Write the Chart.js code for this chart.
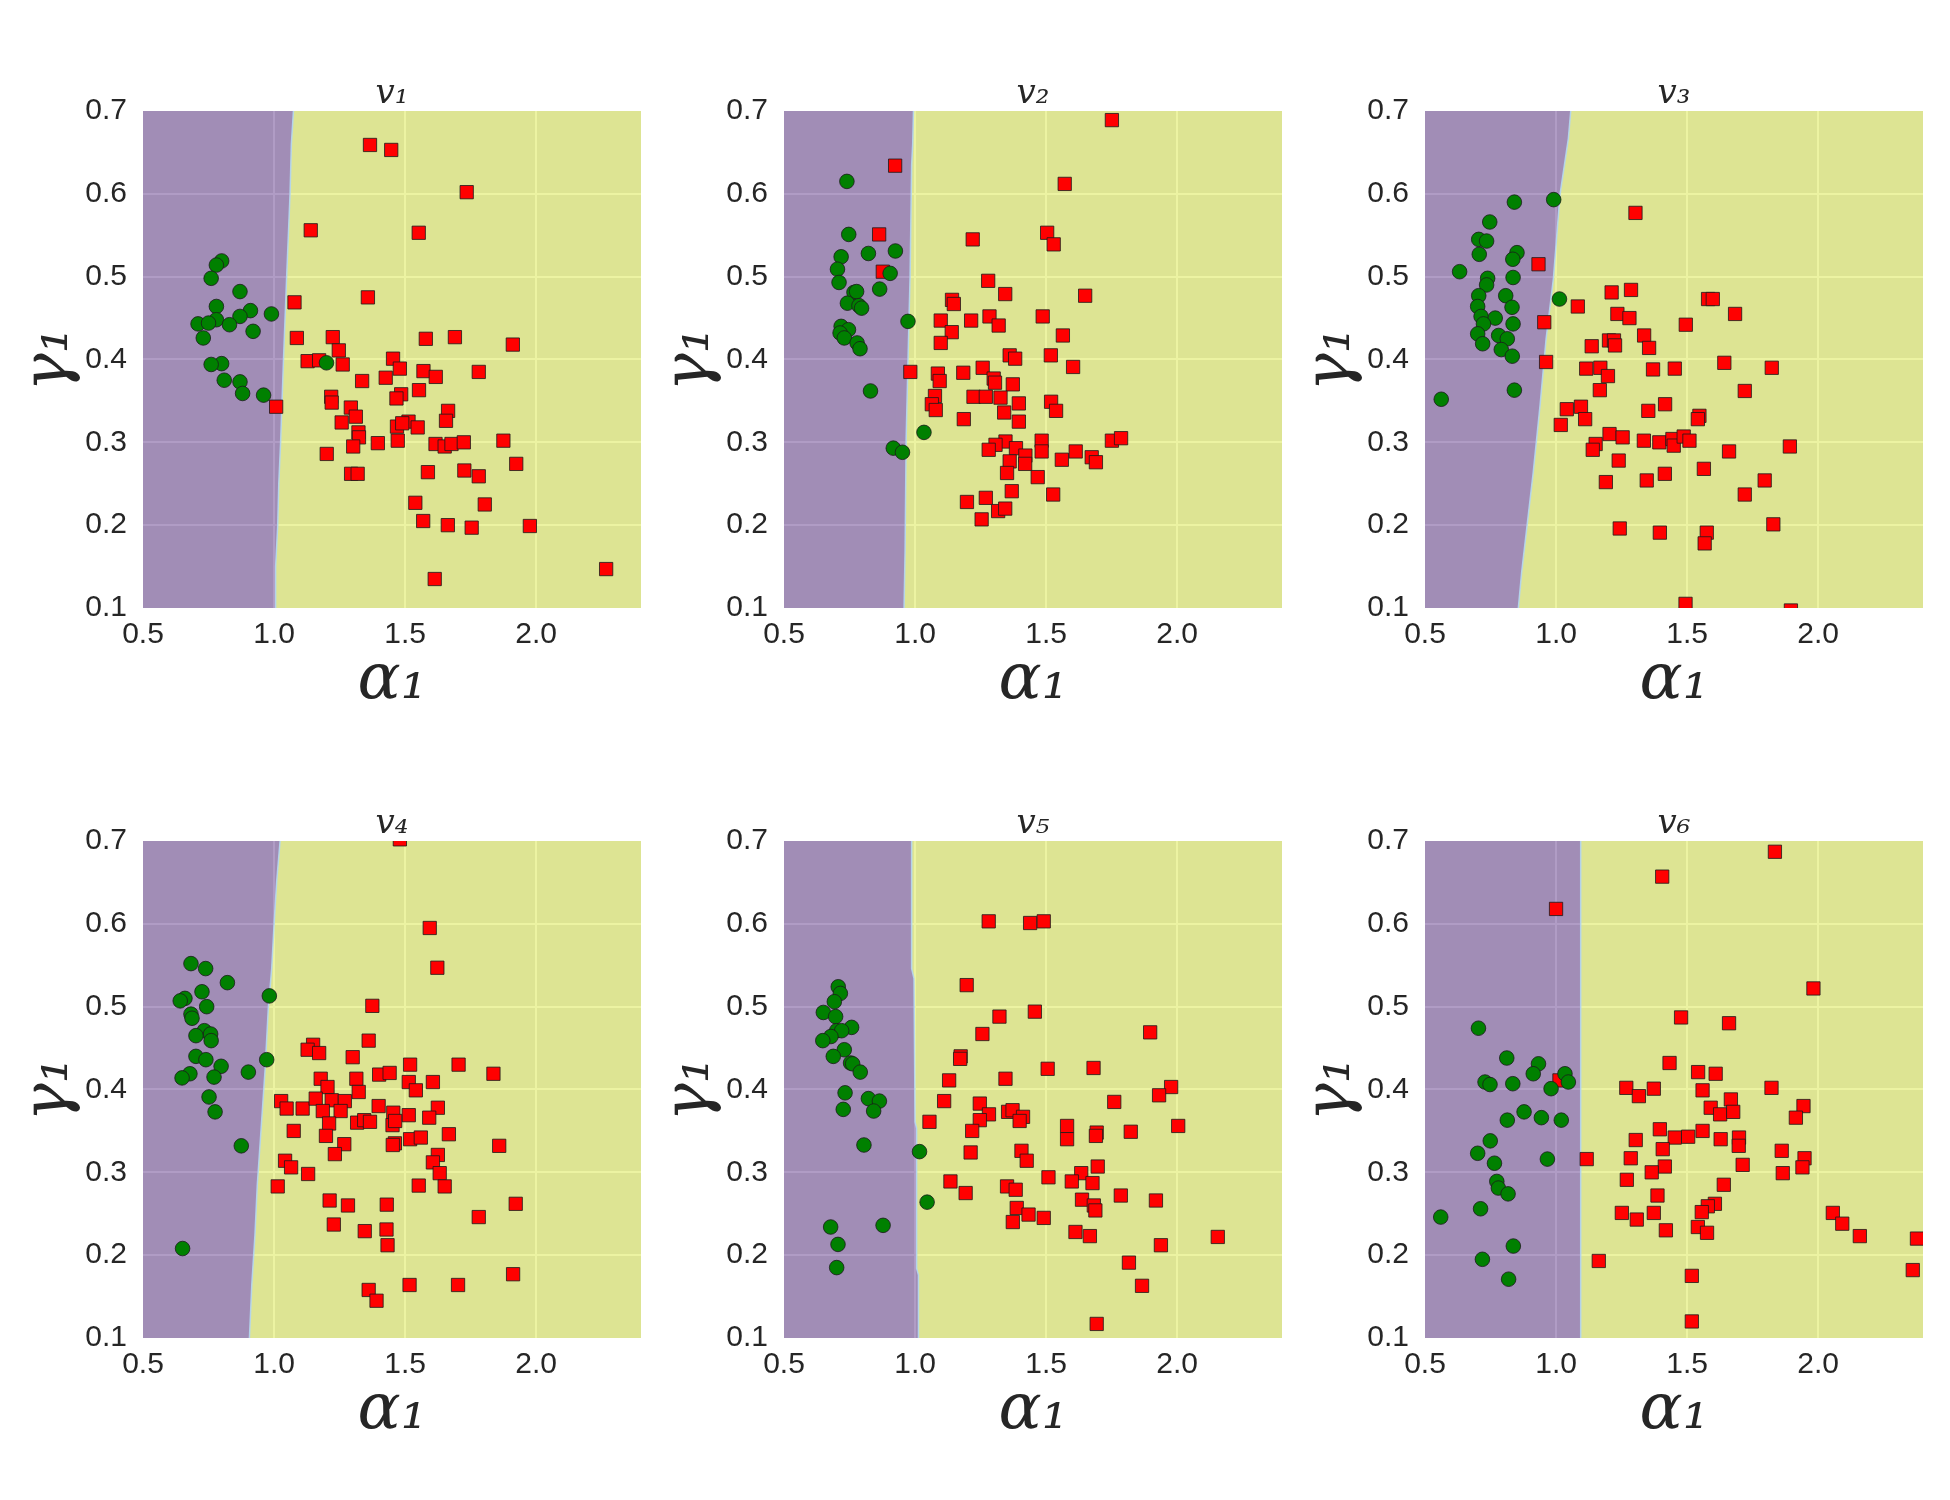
<!DOCTYPE html>
<html lang="en">
  <head>
    <meta charset="UTF-8" />
    <title>Decision regions v1 - v6</title>
    <style>
      body {
        margin: 0;
        background-color: #ffffff;
      }
      .wrap {
        position: relative;
        width: 1950px;
        height: 1500px;
      }
      .cell {
        position: absolute;
        width: 641px;
        height: 730px;
      }
    </style>
  </head>
  <body>
    <div class="wrap">
      <div class="cell" style="left: 0px; top: 0px"><canvas id="c1" width="641" height="730"></canvas></div>
      <div class="cell" style="left: 641px; top: 0px"><canvas id="c2" width="641" height="730"></canvas></div>
      <div class="cell" style="left: 1282px; top: 0px"><canvas id="c3" width="641" height="730"></canvas></div>
      <div class="cell" style="left: 0px; top: 730px"><canvas id="c4" width="641" height="730"></canvas></div>
      <div class="cell" style="left: 641px; top: 730px"><canvas id="c5" width="641" height="730"></canvas></div>
      <div class="cell" style="left: 1282px; top: 730px"><canvas id="c6" width="641" height="730"></canvas></div>
    </div>

    <script src="https://cdn.jsdelivr.net/npm/chart.js"></script>
    <script>
      // axis limits and labels
      const xMin = 0.5, xMax = 2.4, xStep = 0.5;
      const yMin = 0.1, yMax = 0.7, yStep = 0.1;
      const titles = ["v₁", "v₂", "v₃", "v₄", "v₅", "v₆"];
      const xLabel = "α₁";
      const yLabel = "γ₁";

      // [alpha1, gamma1] pairs, green = class 0 (circles), red = class 1 (squares)
      const v1Green = [[0.80,0.519],[0.78,0.514],[0.76,0.498],[0.87,0.482],[0.78,0.464],[0.91,0.459],[0.87,0.452],[0.78,0.448],[0.71,0.443],[0.75,0.444],[0.83,0.442],[0.99,0.455],[0.92,0.434],[0.73,0.426],[0.80,0.395],[0.76,0.394],[1.20,0.396],[0.81,0.375],[0.87,0.373],[0.88,0.359],[0.96,0.357]];
      const v1Red = [[1.366,0.659],[1.447,0.653],[1.735,0.602],[1.140,0.556],[1.552,0.553],[1.078,0.469],[1.358,0.475],[1.087,0.426],[1.224,0.427],[1.579,0.425],[1.690,0.427],[1.911,0.418],[1.247,0.411],[1.454,0.401],[1.128,0.398],[1.172,0.399],[1.262,0.394],[1.480,0.389],[1.570,0.386],[1.617,0.379],[1.781,0.385],[1.336,0.374],[1.426,0.378],[1.553,0.363],[1.485,0.358],[1.467,0.353],[1.218,0.355],[1.220,0.348],[1.664,0.338],[1.656,0.326],[1.293,0.342],[1.312,0.331],[1.258,0.324],[1.469,0.319],[1.513,0.325],[1.548,0.318],[1.489,0.323],[1.322,0.312],[1.324,0.306],[1.302,0.295],[1.396,0.299],[1.472,0.302],[1.616,0.298],[1.651,0.295],[1.677,0.298],[1.724,0.300],[1.875,0.302],[1.924,0.274],[1.008,0.343],[1.201,0.286],[1.294,0.262],[1.319,0.262],[1.587,0.264],[1.726,0.266],[1.781,0.259],[1.539,0.227],[1.804,0.225],[1.569,0.205],[1.663,0.200],[1.754,0.197],[1.976,0.199],[2.267,0.147],[1.613,0.135]];
      const v1Edge = [[1.074,0.7],[1.066,0.66],[1.061,0.6],[1.048,0.5],[1.036,0.4],[1.025,0.3],[1.018,0.25],[1.014,0.2],[1.006,0.15],[1.006,0.1]];

      const v2Green = [[0.740,0.615],[0.747,0.551],[0.822,0.528],[0.925,0.531],[0.718,0.524],[0.704,0.509],[0.905,0.504],[0.710,0.493],[0.865,0.485],[0.767,0.481],[0.777,0.482],[0.742,0.468],[0.786,0.465],[0.796,0.462],[0.973,0.446],[0.718,0.440],[0.746,0.436],[0.714,0.432],[0.730,0.426],[0.779,0.420],[0.790,0.413],[0.830,0.362],[1.034,0.312],[0.917,0.293],[0.952,0.288]];
      const v2Red = [[1.751,0.689],[0.924,0.634],[1.571,0.612],[0.863,0.551],[1.220,0.545],[1.504,0.553],[1.529,0.539],[0.877,0.506],[1.279,0.495],[1.344,0.479],[1.649,0.477],[1.141,0.472],[1.148,0.467],[1.098,0.447],[1.214,0.447],[1.284,0.452],[1.319,0.441],[1.487,0.452],[1.140,0.433],[1.564,0.429],[1.098,0.420],[1.361,0.405],[1.382,0.401],[1.518,0.405],[1.603,0.391],[0.982,0.385],[1.087,0.383],[1.094,0.374],[1.184,0.384],[1.258,0.390],[1.300,0.377],[1.305,0.372],[1.373,0.370],[1.076,0.356],[1.064,0.346],[1.079,0.339],[1.223,0.355],[1.270,0.355],[1.326,0.354],[1.396,0.347],[1.519,0.349],[1.538,0.338],[1.186,0.328],[1.340,0.336],[1.396,0.325],[1.345,0.301],[1.307,0.297],[1.281,0.291],[1.385,0.293],[1.421,0.284],[1.483,0.302],[1.483,0.289],[1.420,0.274],[1.361,0.277],[1.351,0.263],[1.468,0.258],[1.560,0.279],[1.613,0.289],[1.674,0.282],[1.690,0.276],[1.751,0.302],[1.786,0.305],[1.369,0.241],[1.527,0.237],[1.198,0.228],[1.270,0.233],[1.317,0.217],[1.344,0.220],[1.254,0.207]];
      const v2Edge = [[0.994,0.7],[0.991,0.66],[0.987,0.635],[0.981,0.5],[0.975,0.425],[0.966,0.305],[0.962,0.17],[0.958,0.1]];

      const v3Green = [[0.841,0.590],[0.991,0.593],[0.747,0.566],[0.705,0.545],[0.735,0.543],[0.707,0.527],[0.851,0.529],[0.835,0.521],[0.632,0.506],[0.739,0.498],[0.836,0.499],[0.735,0.490],[0.705,0.477],[0.808,0.477],[0.701,0.464],[0.832,0.463],[0.714,0.452],[0.768,0.450],[0.723,0.443],[0.836,0.443],[0.701,0.431],[0.781,0.429],[0.814,0.425],[0.720,0.419],[0.791,0.412],[0.833,0.404],[1.013,0.473],[0.841,0.363],[0.562,0.352]];
      const v3Red = [[1.303,0.577],[0.933,0.515],[1.212,0.481],[1.286,0.484],[1.580,0.473],[1.598,0.473],[1.083,0.464],[1.683,0.455],[1.234,0.455],[1.280,0.450],[1.495,0.442],[0.955,0.445],[1.336,0.429],[1.355,0.414],[1.136,0.416],[1.202,0.423],[1.221,0.423],[1.225,0.417],[0.962,0.397],[1.115,0.389],[1.169,0.390],[1.198,0.380],[1.370,0.388],[1.453,0.389],[1.642,0.396],[1.823,0.390],[1.167,0.363],[1.720,0.362],[1.416,0.346],[1.352,0.338],[1.041,0.340],[1.095,0.343],[1.111,0.328],[1.018,0.321],[1.547,0.332],[1.541,0.328],[1.204,0.310],[1.254,0.306],[1.335,0.302],[1.394,0.300],[1.444,0.304],[1.449,0.296],[1.487,0.307],[1.509,0.302],[1.151,0.298],[1.140,0.291],[1.660,0.289],[1.892,0.295],[1.239,0.278],[1.564,0.268],[1.415,0.262],[1.346,0.254],[1.190,0.252],[1.796,0.254],[1.720,0.237],[1.243,0.196],[1.396,0.191],[1.575,0.191],[1.567,0.178],[1.829,0.201],[1.494,0.105],[1.896,0.097]];
      const v3Edge = [[1.056,0.7],[1.047,0.667],[1.015,0.599],[0.990,0.498],[0.962,0.425],[0.939,0.345],[0.913,0.264],[0.891,0.204],[0.869,0.144],[0.856,0.1]];

      const v4Green = [[0.683,0.552],[0.739,0.546],[0.822,0.529],[0.982,0.513],[0.725,0.518],[0.660,0.510],[0.642,0.507],[0.743,0.500],[0.683,0.491],[0.687,0.486],[0.734,0.471],[0.702,0.465],[0.758,0.467],[0.760,0.459],[0.972,0.436],[0.702,0.440],[0.740,0.436],[0.798,0.428],[0.902,0.421],[0.679,0.419],[0.649,0.414],[0.771,0.415],[0.752,0.391],[0.775,0.373],[0.875,0.332],[0.651,0.208]];
      const v4Red = [[1.480,0.702],[1.594,0.595],[1.623,0.547],[1.375,0.501],[1.361,0.459],[1.300,0.439],[1.149,0.454],[1.128,0.448],[1.172,0.444],[1.519,0.430],[1.704,0.430],[1.837,0.419],[1.178,0.413],[1.314,0.413],[1.401,0.418],[1.441,0.420],[1.514,0.409],[1.541,0.399],[1.606,0.409],[1.204,0.403],[1.323,0.397],[1.027,0.386],[1.048,0.377],[1.109,0.377],[1.159,0.389],[1.220,0.387],[1.270,0.386],[1.186,0.374],[1.254,0.374],[1.399,0.380],[1.455,0.372],[1.514,0.369],[1.625,0.378],[1.592,0.366],[1.210,0.359],[1.317,0.360],[1.344,0.363],[1.366,0.361],[1.452,0.357],[1.462,0.362],[1.075,0.350],[1.198,0.344],[1.268,0.334],[1.232,0.322],[1.461,0.335],[1.453,0.333],[1.519,0.340],[1.560,0.342],[1.667,0.346],[1.859,0.332],[1.625,0.321],[1.606,0.312],[1.632,0.299],[1.042,0.314],[1.065,0.306],[1.130,0.298],[1.014,0.283],[1.552,0.284],[1.651,0.283],[1.212,0.266],[1.282,0.260],[1.430,0.261],[1.922,0.262],[1.781,0.246],[1.228,0.237],[1.346,0.229],[1.429,0.231],[1.433,0.212],[1.361,0.158],[1.391,0.145],[1.517,0.164],[1.702,0.164],[1.912,0.177]];
      const v4Edge = [[1.023,0.7],[1.010,0.651],[1.000,0.599],[0.991,0.546],[0.978,0.498],[0.966,0.425],[0.949,0.345],[0.936,0.285],[0.927,0.224],[0.915,0.164],[0.906,0.1]];

      const v5Green = [[0.707,0.524],[0.715,0.516],[0.692,0.506],[0.650,0.493],[0.697,0.488],[0.758,0.475],[0.701,0.471],[0.720,0.471],[0.679,0.464],[0.648,0.459],[0.730,0.448],[0.688,0.440],[0.754,0.432],[0.762,0.431],[0.791,0.421],[0.733,0.396],[0.822,0.389],[0.864,0.386],[0.726,0.376],[0.842,0.374],[0.805,0.333],[1.017,0.325],[1.046,0.264],[0.678,0.234],[0.878,0.236],[0.706,0.213],[0.701,0.185]];
      const v5Red = [[1.281,0.603],[1.439,0.601],[1.491,0.603],[1.197,0.526],[1.322,0.488],[1.457,0.494],[1.257,0.467],[1.897,0.469],[1.174,0.440],[1.172,0.437],[1.130,0.411],[1.345,0.413],[1.506,0.425],[1.681,0.426],[1.977,0.403],[1.931,0.393],[1.760,0.385],[1.111,0.386],[1.247,0.383],[1.282,0.370],[1.247,0.363],[1.355,0.373],[1.372,0.375],[1.412,0.367],[1.399,0.362],[1.055,0.361],[1.218,0.350],[1.580,0.356],[1.580,0.340],[1.693,0.348],[1.690,0.344],[1.823,0.349],[2.004,0.356],[1.212,0.324],[1.406,0.326],[1.426,0.314],[1.697,0.307],[1.634,0.299],[1.598,0.289],[1.677,0.287],[1.509,0.294],[1.135,0.289],[1.193,0.275],[1.351,0.283],[1.384,0.279],[1.785,0.272],[1.919,0.266],[1.637,0.267],[1.682,0.260],[1.688,0.254],[1.388,0.257],[1.433,0.249],[1.373,0.240],[1.491,0.245],[1.612,0.228],[1.667,0.223],[1.938,0.212],[2.155,0.222],[1.816,0.191],[1.866,0.163],[1.693,0.117]];
      const v5Edge = [[0.987,0.7],[0.987,0.546],[0.996,0.534],[1.000,0.361],[1.006,0.353],[1.006,0.184],[1.013,0.176],[1.013,0.1]];

      const v6Green = [[0.704,0.474],[0.812,0.438],[0.933,0.431],[0.913,0.419],[0.729,0.409],[0.748,0.406],[0.835,0.407],[0.981,0.401],[1.034,0.419],[1.047,0.409],[0.878,0.373],[0.814,0.363],[0.944,0.366],[1.020,0.363],[0.749,0.338],[0.701,0.323],[0.765,0.311],[0.967,0.316],[0.774,0.289],[0.780,0.281],[0.817,0.274],[0.712,0.256],[0.560,0.246],[0.837,0.211],[0.719,0.195],[0.819,0.171]];
      const v6Red = [[1.835,0.687],[1.405,0.657],[1.000,0.618],[1.982,0.522],[1.477,0.487],[1.660,0.480],[1.433,0.432],[1.542,0.421],[1.609,0.419],[1.822,0.402],[1.268,0.402],[1.316,0.392],[1.373,0.401],[1.559,0.399],[1.667,0.388],[1.590,0.378],[1.626,0.370],[1.676,0.373],[1.944,0.380],[1.915,0.366],[1.396,0.352],[1.559,0.350],[1.453,0.342],[1.504,0.343],[1.628,0.340],[1.698,0.342],[1.697,0.332],[1.304,0.339],[1.407,0.328],[1.285,0.317],[1.117,0.316],[1.861,0.326],[1.948,0.317],[1.940,0.306],[1.712,0.309],[1.415,0.307],[1.365,0.300],[1.865,0.299],[1.270,0.291],[1.640,0.285],[1.387,0.272],[1.606,0.262],[1.579,0.259],[1.556,0.252],[1.251,0.251],[1.308,0.243],[1.373,0.251],[1.419,0.230],[1.541,0.234],[1.576,0.227],[2.056,0.251],[2.092,0.238],[2.159,0.223],[2.377,0.220],[2.361,0.182],[1.163,0.193],[1.518,0.175],[1.518,0.120],[1.013,0.411]];
      const v6Edge = [[1.094,0.7],[1.094,0.1]];

      const panels = [
        { id: "c1", green: v1Green, red: v1Red, edge: v1Edge },
        { id: "c2", green: v2Green, red: v2Red, edge: v2Edge },
        { id: "c3", green: v3Green, red: v3Red, edge: v3Edge },
        { id: "c4", green: v4Green, red: v4Red, edge: v4Edge },
        { id: "c5", green: v5Green, red: v5Red, edge: v5Edge },
        { id: "c6", green: v6Green, red: v6Red, edge: v6Edge },
      ];

      const toXY = (pairs) => pairs.map((p) => ({ x: p[0], y: p[1] }));

      // plot area background, seen through the translucent regions
      const plotBg = {
        id: "plotBg",
        beforeDraw(chart) {
          const { ctx, chartArea: a } = chart;
          ctx.save();
          ctx.fillStyle = "rgb(218, 218, 218)";
          ctx.fillRect(a.left, a.top, a.right - a.left, a.bottom - a.top);
          ctx.restore();
        },
      };

      const tickFont = { family: "'Liberation Sans', Arial, sans-serif", size: 30 };
      const mathFont = { family: "'DejaVu Serif', serif", style: "italic", size: 64, lineHeight: 1 };
      const gridColor = (min, max) => (c) =>
        c.tick && (Math.abs(c.tick.value - min) < 1e-6 || Math.abs(c.tick.value - max) < 1e-6)
          ? "rgba(0,0,0,0)"
          : "#ffffff";

      function makeChart(p, title) {
        const edgeUp = p.edge.slice().reverse(); // bottom -> top
        // closed shapes: left (purple) and right (yellow) of the boundary
        const leftShape = [[xMin, yMax], [xMin, yMin], ...edgeUp, [xMax, yMax]];
        const rightShape = [[xMax, yMax], [xMax, yMin], ...edgeUp, [xMin, yMax]];

        const shapeSet = (pts, color) => ({
          data: toXY(pts),
          showLine: true,
          fill: "shape",
          backgroundColor: color,
          borderColor: "rgba(0,0,0,0)",
          borderWidth: 0,
          pointRadius: 0,
          pointHitRadius: 0,
          clip: 0,
          order: 5,
        });

        new Chart(document.getElementById(p.id), {
          type: "scatter",
          data: {
            datasets: [
              {
                label: "0",
                data: toXY(p.green),
                pointStyle: "circle",
                pointRadius: 7.3,
                backgroundColor: "#008000",
                borderColor: "#1a1a1a",
                borderWidth: 0.8,
                clip: 0,
                order: 1,
              },
              {
                label: "1",
                data: toXY(p.red),
                pointStyle: "rect",
                pointRadius: 9.4,
                backgroundColor: "#ff0000",
                borderColor: "#1a1a1a",
                borderWidth: 0.8,
                clip: 0,
                order: 2,
              },
              {
                data: toXY(p.edge),
                showLine: true,
                fill: false,
                borderColor: "rgba(180, 215, 240, 0.9)",
                borderWidth: 1.5,
                pointRadius: 0,
                clip: 0,
                order: 4,
              },
              shapeSet(leftShape, "rgba(123, 90, 158, 0.6)"),
              shapeSet(rightShape, "rgba(224, 235, 100, 0.6)"),
            ],
          },
          options: {
            responsive: false,
            animation: false,
            events: [],
            layout: { autoPadding: false, padding: 0 },
            plugins: {
              legend: { display: false },
              tooltip: { enabled: false },
              title: {
                display: true,
                text: title,
                fullSize: false,
                color: "#262626",
                font: { family: "'DejaVu Serif', serif", style: "italic", size: 34, lineHeight: 1, weight: "normal" },
                padding: { top: 77, bottom: 0 },
              },
            },
            scales: {
              x: {
                type: "linear",
                min: xMin,
                max: xMax,
                afterFit: (s) => {
                  s.height = 122;
                },
                ticks: {
                  stepSize: xStep,
                  includeBounds: false,
                  autoSkip: false,
                  maxRotation: 0,
                  padding: 9,
                  color: "#262626",
                  font: tickFont,
                  callback: (v) => v.toFixed(1),
                },
                grid: { color: gridColor(xMin, xMax), lineWidth: 2, drawTicks: false },
                border: { display: false },
                title: {
                  display: true,
                  text: xLabel,
                  color: "#262626",
                  font: mathFont,
                  padding: { top: 0, bottom: 17 },
                },
              },
              y: {
                type: "linear",
                min: yMin,
                max: yMax,
                afterFit: (s) => {
                  s.width = 143;
                },
                ticks: {
                  stepSize: yStep,
                  includeBounds: false,
                  padding: 16,
                  color: "#262626",
                  font: tickFont,
                  callback: (v) => v.toFixed(1),
                },
                grid: { color: gridColor(yMin, yMax), lineWidth: 2, drawTicks: false },
                border: { display: false },
                title: {
                  display: true,
                  text: yLabel,
                  color: "#262626",
                  font: mathFont,
                  padding: { top: 18, bottom: 0 },
                },
              },
            },
          },
          plugins: [plotBg],
        });
      }

      panels.forEach((p, i) => makeChart(p, titles[i]));
    </script>
  </body>
</html>
